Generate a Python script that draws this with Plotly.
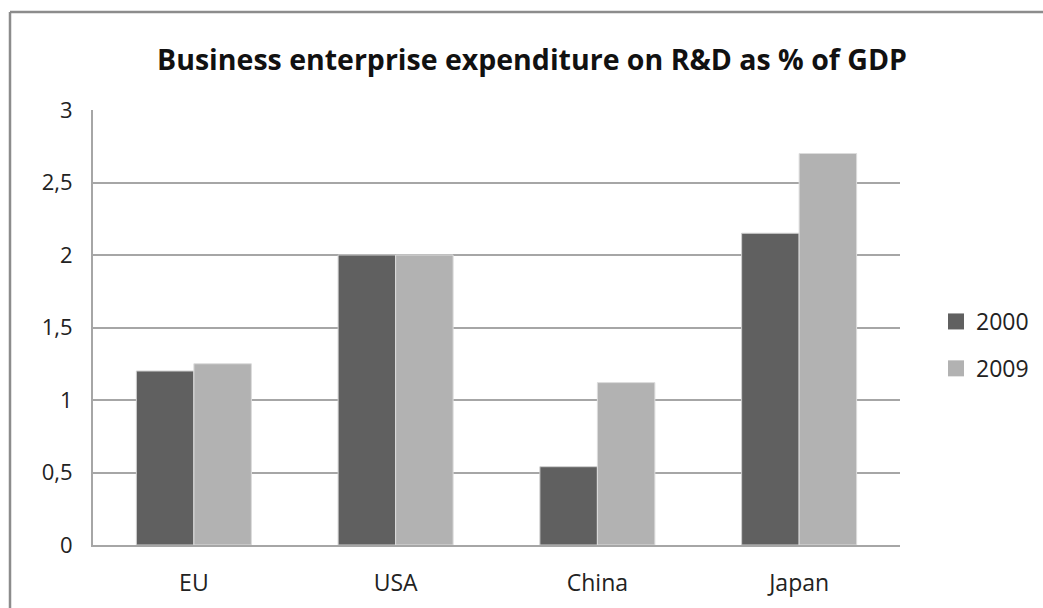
import plotly.graph_objects as go

categories = ["EU", "USA", "China", "Japan"]
values_2000 = [1.2, 2.0, 0.54, 2.15]
values_2009 = [1.25, 2.0, 1.12, 2.7]
ytick_vals = [0, 0.5, 1, 1.5, 2, 2.5, 3]
ytick_text = ["0", "0,5", "1", "1,5", "2", "2,5", "3"]
series_names = ["2000", "2009"]
series_colors = ["#606060", "#b2b2b2"]

W, H = 1043, 608
L, R, T, B = 93, 143, 110, 63
pw, ph = W - L - R, H - T - B

fig = go.Figure()
for name, vals, col, lc in zip(series_names, [values_2000, values_2009], series_colors,
                               ["#cfcfcf", "#dcdcdc"]):
    fig.add_trace(go.Bar(x=categories, y=vals, name=name, showlegend=False,
                         marker=dict(color=col, line=dict(color=lc, width=1))))
# legend entries with larger square swatches
for name, col in zip(series_names, series_colors):
    fig.add_trace(go.Scatter(x=[None], y=[None], mode="markers", name=name,
                             legendgroup=name,
                             marker=dict(symbol="square", size=17, color=col)))

fig.update_layout(
    width=W, height=H,
    margin=dict(l=L, r=R, t=T, b=B, autoexpand=False),
    paper_bgcolor="white", plot_bgcolor="white",
    barmode="group", bargap=0.43, bargroupgap=0,
    font=dict(family="Open Sans", color="#222222"),
    title=dict(text="<b>Business enterprise expenditure on R&D as % of GDP</b>",
               x=(532 - L) / pw, xref="paper", xanchor="center",
               y=1 - 60 / H, yanchor="middle",
               font=dict(size=28.5, color="#111111")),
    legend=dict(x=(936 - L) / pw, xanchor="left", y=(545 - 345) / ph, yanchor="middle",
                font=dict(size=23, color="#222222"), itemwidth=30,
                tracegroupgap=14, bgcolor="rgba(0,0,0,0)"),
    showlegend=True,
)
fig.update_xaxes(showgrid=False, showline=True, linecolor="#a6a6a6", linewidth=2,
                 ticks="", tickfont=dict(size=23, color="#222222"), ticklabelstandoff=16)
fig.update_yaxes(range=[0, 3], tickvals=ytick_vals, ticktext=ytick_text,
                 showgrid=True, gridcolor="#a6a6a6", gridwidth=1.5,
                 showline=True, linecolor="#a6a6a6", linewidth=2,
                 zeroline=False, ticks="", tickfont=dict(size=22, color="#222222"),
                 ticklabelstandoff=14)

# outer chart frame (cropped on right/bottom)
x_left = (10 - L) / pw
y_top = (545 - 12) / ph
fig.add_shape(type="line", xref="paper", yref="paper", x0=x_left, x1=(W + 5 - L) / pw,
              y0=y_top, y1=y_top, line=dict(color="#8c8c8c", width=2.5))
fig.add_shape(type="line", xref="paper", yref="paper", x0=x_left, x1=x_left,
              y0=y_top, y1=-(H + 5 - 545) / ph, line=dict(color="#8c8c8c", width=2.5))

fig.write_html("out.html")
